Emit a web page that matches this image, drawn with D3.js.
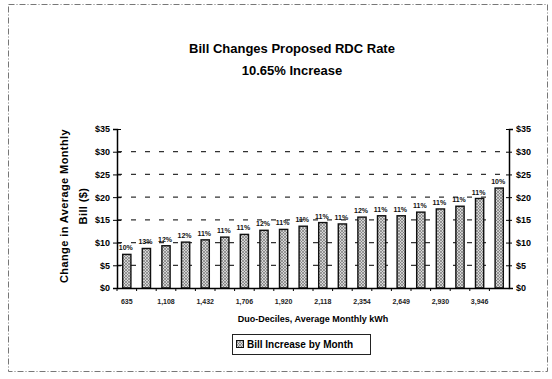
<!DOCTYPE html>
<html>
<head>
<meta charset="utf-8">
<script src="https://cdn.jsdelivr.net/npm/d3@7"></script>
<style>
  html, body { margin: 0; padding: 0; background: #fff; }
  svg { display: block; font-family: Arial, "Liberation Sans", sans-serif; }
</style>
</head>
<body>
<svg id="chart" width="552" height="379"></svg>
<script>
// ---- data ----
const groups = ["G1","G2","G3","G4","G5","G6","G7","G8","G9","G10","G11","G12","G13","G14","G15","G16","G17","G18","G19","G20"];
const billIncrease = [7.4, 8.7, 9.3, 10.1, 10.6, 11.2, 11.8, 12.7, 12.9, 13.6, 14.4, 14.1, 15.6, 15.9, 15.9, 16.7, 17.4, 18.0, 19.7, 22.0];
const pctLabels = ["10%","13%","12%","12%","11%","11%","11%","12%","11%","11%","11%","11%","12%","11%","11%","11%","11%","11%","11%","10%"];
const kwhLabels = ["635","1,108","1,432","1,706","1,920","2,118","2,354","2,649","2,930","3,946"];
const yTicks = [0, 5, 10, 15, 20, 25, 30, 35];
const titleLines = ["Bill Changes Proposed RDC Rate", "10.65% Increase"];
const yTitleLines = ["Change in Average Monthly", "Bill ($)"];
const xTitle = "Duo-Deciles, Average Monthly kWh";
const legendLabel = "Bill Increase by Month";

// ---- layout ----
const plot = { left: 117, right: 509, top: 129, bottom: 288 };
const svg = d3.select("#chart");

// pattern for bars
const defs = svg.append("defs");
const pat = defs.append("pattern").attr("id", "hatch").attr("patternUnits", "userSpaceOnUse")
  .attr("width", 3).attr("height", 3);
pat.append("rect").attr("width", 3).attr("height", 3).attr("fill", "#d4d4d4");
pat.append("path").attr("d", "M0,0 L3,3 M3,0 L0,3").attr("stroke", "#6a6a6a").attr("stroke-width", 0.6);

// outer frame
svg.append("rect").attr("x", 8.5).attr("y", 4.5).attr("width", 539).attr("height", 367)
  .attr("fill", "none").attr("stroke", "#777").attr("stroke-width", 1).attr("stroke-dasharray", "6,2,1,2");

const x = d3.scaleBand().domain(groups).range([plot.left, plot.right]).paddingInner(0.58).paddingOuter(0.29);
const y = d3.scaleLinear().domain([0, 35]).range([plot.bottom, plot.top]);

// gridlines
svg.append("g").selectAll("line").data(yTicks.filter(d => d > 0 && d < 35)).join("line")
  .attr("x1", plot.left).attr("x2", plot.right)
  .attr("y1", d => y(d)).attr("y2", d => y(d))
  .attr("stroke", "#333").attr("stroke-width", 1.2).attr("stroke-dasharray", "5,9");

// bars
svg.append("g").selectAll("rect").data(billIncrease).join("rect")
  .attr("x", (d, i) => x(groups[i]))
  .attr("width", x.bandwidth())
  .attr("y", d => y(d))
  .attr("height", d => y(0) - y(d))
  .attr("fill", "url(#hatch)").attr("stroke", "#111").attr("stroke-width", 1.4);

// bar labels
svg.append("g").selectAll("text").data(billIncrease).join("text")
  .attr("x", (d, i) => x(groups[i]) + x.bandwidth() / 2 - 1)
  .attr("y", d => y(d) - 4)
  .attr("text-anchor", "middle")
  .attr("font-size", 7).attr("font-weight", "bold").attr("fill", "#111")
  .text((d, i) => pctLabels[i]);

// left axis
const leftAxis = d3.axisLeft(y).tickValues(yTicks).tickFormat(d => "$" + d).tickSize(4).tickPadding(6);
const gl = svg.append("g").attr("transform", `translate(${plot.left},0)`).call(leftAxis);
gl.select(".domain").attr("stroke", "#000").attr("stroke-width", 1.5);
gl.selectAll(".tick line").attr("stroke", "#000").attr("x2", 4).attr("x1", -4);
gl.selectAll("text").attr("font-size", 9).attr("font-weight", "bold").attr("fill", "#000").attr("x", -7)
  .attr("font-family", "Arial, 'Liberation Sans', sans-serif");

// right axis
const rightAxis = d3.axisRight(y).tickValues(yTicks).tickFormat(d => "$" + d).tickSize(4).tickPadding(6);
const gr = svg.append("g").attr("transform", `translate(${plot.right},0)`).call(rightAxis);
gr.select(".domain").attr("stroke", "#000").attr("stroke-width", 1.5);
gr.selectAll(".tick line").attr("stroke", "#000").attr("x1", -3).attr("x2", 3);
gr.selectAll("text").attr("font-size", 9).attr("font-weight", "bold").attr("fill", "#000").attr("x", 7)
  .attr("font-family", "Arial, 'Liberation Sans', sans-serif");

// bottom axis
const tickGroups = groups.filter((g, i) => i % 2 === 0);
const bottomAxis = d3.axisBottom(x).tickValues(tickGroups)
  .tickFormat(g => kwhLabels[tickGroups.indexOf(g)]).tickSize(0).tickPadding(11);
const gb = svg.append("g").attr("transform", `translate(0,${plot.bottom})`).call(bottomAxis);
gb.select(".domain").attr("stroke", "#000").attr("stroke-width", 1.5);
gb.selectAll("text").attr("font-size", 7).attr("font-weight", "bold").attr("fill", "#222")
  .attr("font-family", "Arial, 'Liberation Sans', sans-serif");
// minor ticks at band boundaries
svg.append("g").selectAll("line").data(groups).join("line")
  .attr("x1", g => x(g) - x.step() * 0.29).attr("x2", g => x(g) - x.step() * 0.29)
  .attr("y1", plot.bottom).attr("y2", plot.bottom + 3)
  .attr("stroke", "#000").attr("stroke-width", 1);

// titles
svg.append("g").selectAll("text").data(titleLines).join("text")
  .attr("x", 292).attr("y", (d, i) => 53 + i * 22)
  .attr("text-anchor", "middle").attr("font-size", 13).attr("font-weight", "bold").attr("fill", "#000")
  .text(d => d);

// y title
svg.append("g").selectAll("text").data(yTitleLines).join("text")
  .attr("transform", (d, i) => `translate(${68 + i * 19},206) rotate(-90)`)
  .attr("text-anchor", "middle").attr("font-size", 11).attr("font-weight", "bold").attr("fill", "#000")
  .attr("letter-spacing", 0.4)
  .text(d => d);

// x title
svg.append("text").attr("x", 313).attr("y", 322).attr("text-anchor", "middle")
  .attr("font-size", 9).attr("font-weight", "bold").attr("fill", "#000").text(xTitle);

// legend
const lg = svg.append("g");
lg.append("rect").attr("x", 232.5).attr("y", 334.5).attr("width", 138).attr("height", 20)
  .attr("fill", "#fff").attr("stroke", "#222").attr("stroke-width", 1);
lg.append("rect").attr("x", 236.5).attr("y", 340.5).attr("width", 7).attr("height", 7)
  .attr("fill", "url(#hatch)").attr("stroke", "#111").attr("stroke-width", 1);
lg.append("text").attr("x", 247).attr("y", 348).attr("font-size", 10).attr("font-weight", "bold")
  .attr("fill", "#000").text(legendLabel);
</script>
</body>
</html>
